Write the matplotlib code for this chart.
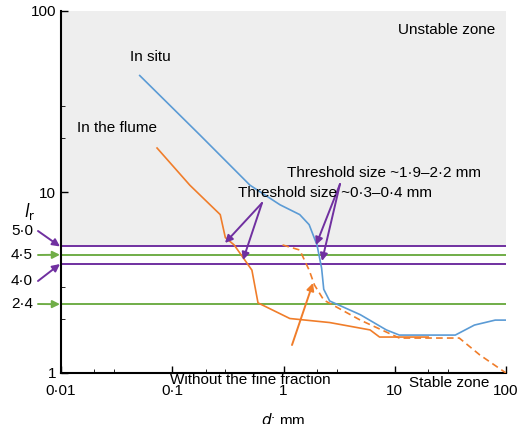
import math
import matplotlib
matplotlib.use("Agg")
import matplotlib.pyplot as plt
from matplotlib.ticker import FixedLocator, NullFormatter
from matplotlib.patches import FancyArrowPatch

insitu_d = [0.051, 0.178, 0.5, 0.93, 1.4, 1.7, 2.0, 2.2, 2.3, 2.6, 4.9, 8.4, 11.0, 35, 52, 80, 100]
insitu_l = [44, 20.6, 10.9, 8.5, 7.5, 6.6, 5.1, 3.8, 2.9, 2.5, 2.1, 1.73, 1.62, 1.62, 1.84, 1.96, 1.96]
flume_d = [0.073, 0.144, 0.27, 0.3, 0.36, 0.45, 0.52, 0.59, 1.14, 2.6, 6.0, 7.3, 20]
flume_l = [17.5, 10.9, 7.5, 5.6, 5.1, 4.2, 3.7, 2.44, 2.0, 1.9, 1.73, 1.58, 1.58]
nofine_d = [0.98, 1.4, 1.7, 1.9, 2.3, 4.9, 11, 38, 58, 100]
nofine_l = [5.1, 4.78, 3.7, 3.06, 2.53, 1.96, 1.56, 1.56, 1.26, 1.0]
thresholds = [5.0, 4.5, 4.0, 2.4]
thr_labels = ["5·0", "4·5", "4·0", "2·4"]
thr_colors = ["#7030a0", "#70ad47", "#7030a0", "#70ad47"]
xticks = [0.01, 0.1, 1, 10, 100]
xticklabels = ["0·01", "0·1", "1", "10", "100"]

BLUE, ORANGE, PURPLE = "#5b9bd5", "#f07d2a", "#7030a0"
plt.rcParams['font.family'] = ['Liberation Sans', 'DejaVu Sans']
fig = plt.figure(figsize=(5.2, 4.24), dpi=100)
ax = fig.add_axes([61/520, 51/424, 445/520, 362/424])
ax.set_xscale('log'); ax.set_yscale('log')
ax.set_xlim(0.01, 100); ax.set_ylim(1, 100)
ax.axhspan(5.0, 100, color="#eeeeee", zorder=0, lw=0)
for t, c in zip(thresholds, thr_colors):
    ax.axhline(t, color=c, lw=1.4, zorder=2)
ax.plot(insitu_d, insitu_l, color=BLUE, lw=1.2, zorder=3)
ax.plot(flume_d, flume_l, color=ORANGE, lw=1.2, zorder=3)
ax.plot(nofine_d, nofine_l, color=ORANGE, lw=1.2, ls=(0, (4, 2.5)), zorder=3)

ax.set_xticks(xticks); ax.set_xticklabels(xticklabels, fontsize=11)
ax.xaxis.set_minor_locator(FixedLocator([m * 10.0**e for e in range(-2, 2) for m in (2, 3)]))
ax.xaxis.set_minor_formatter(NullFormatter())
ax.set_yticks([1, 10, 100]); ax.set_yticklabels(["1", "10", "100"], fontsize=11)
ax.yaxis.set_minor_locator(FixedLocator([2, 3, 20, 30]))
ax.yaxis.set_minor_formatter(NullFormatter())
ax.tick_params(direction='in', length=5, width=1)
ax.tick_params(axis='x', pad=8)
ax.tick_params(which='minor', direction='in', length=3)
for s in ['top', 'right']:
    ax.spines[s].set_visible(False)
for s in ['left', 'bottom']:
    ax.spines[s].set_linewidth(1.5)

ax.set_xlabel(r"$d$: mm", fontsize=11, labelpad=10)
fig.text(30/520, 1-212/424, r"$l_\mathrm{r}$", fontsize=12, ha='center', va='center')

def px(x, y):
    return (x/520, 1-y/424)
for x, y, s in [(398, 30, "Unstable zone"), (130, 57, "In situ"), (77, 128, "In the flume"),
                (238, 193, "Threshold size ~0·3–0·4 mm"), (287, 173, "Threshold size ~1·9–2·2 mm"),
                (170, 380, "Without the fine fraction"), (409, 383, "Stable zone")]:
    fig.text(*px(x, y), s, fontsize=11, ha='left', va='center')

def arrow(x0, y0, x1, y1, c):
    fig.add_artist(FancyArrowPatch(px(x0, y0), px(x1, y1), transform=fig.transFigure,
        color=c, arrowstyle='-|>', lw=1.4, mutation_scale=11, shrinkA=0, shrinkB=0))
arrow(262, 203, 225, 243, PURPLE)
arrow(262, 203, 243, 260, PURPLE)
arrow(340, 184, 316, 245, PURPLE)
arrow(340, 184, 322, 261, PURPLE)
arrow(292, 345, 313, 283, ORANGE)

label_y = [231, 255, 281, 304]
for lab, ly, t, c in zip(thr_labels, label_y, thresholds, thr_colors):
    fig.text(*px(22, ly), lab, fontsize=11, ha='center', va='center')
    ty = 373 - 181 * math.log10(t)
    arrow(38, ly, 60, ty, c)

fig.savefig("out.png", dpi=100)
